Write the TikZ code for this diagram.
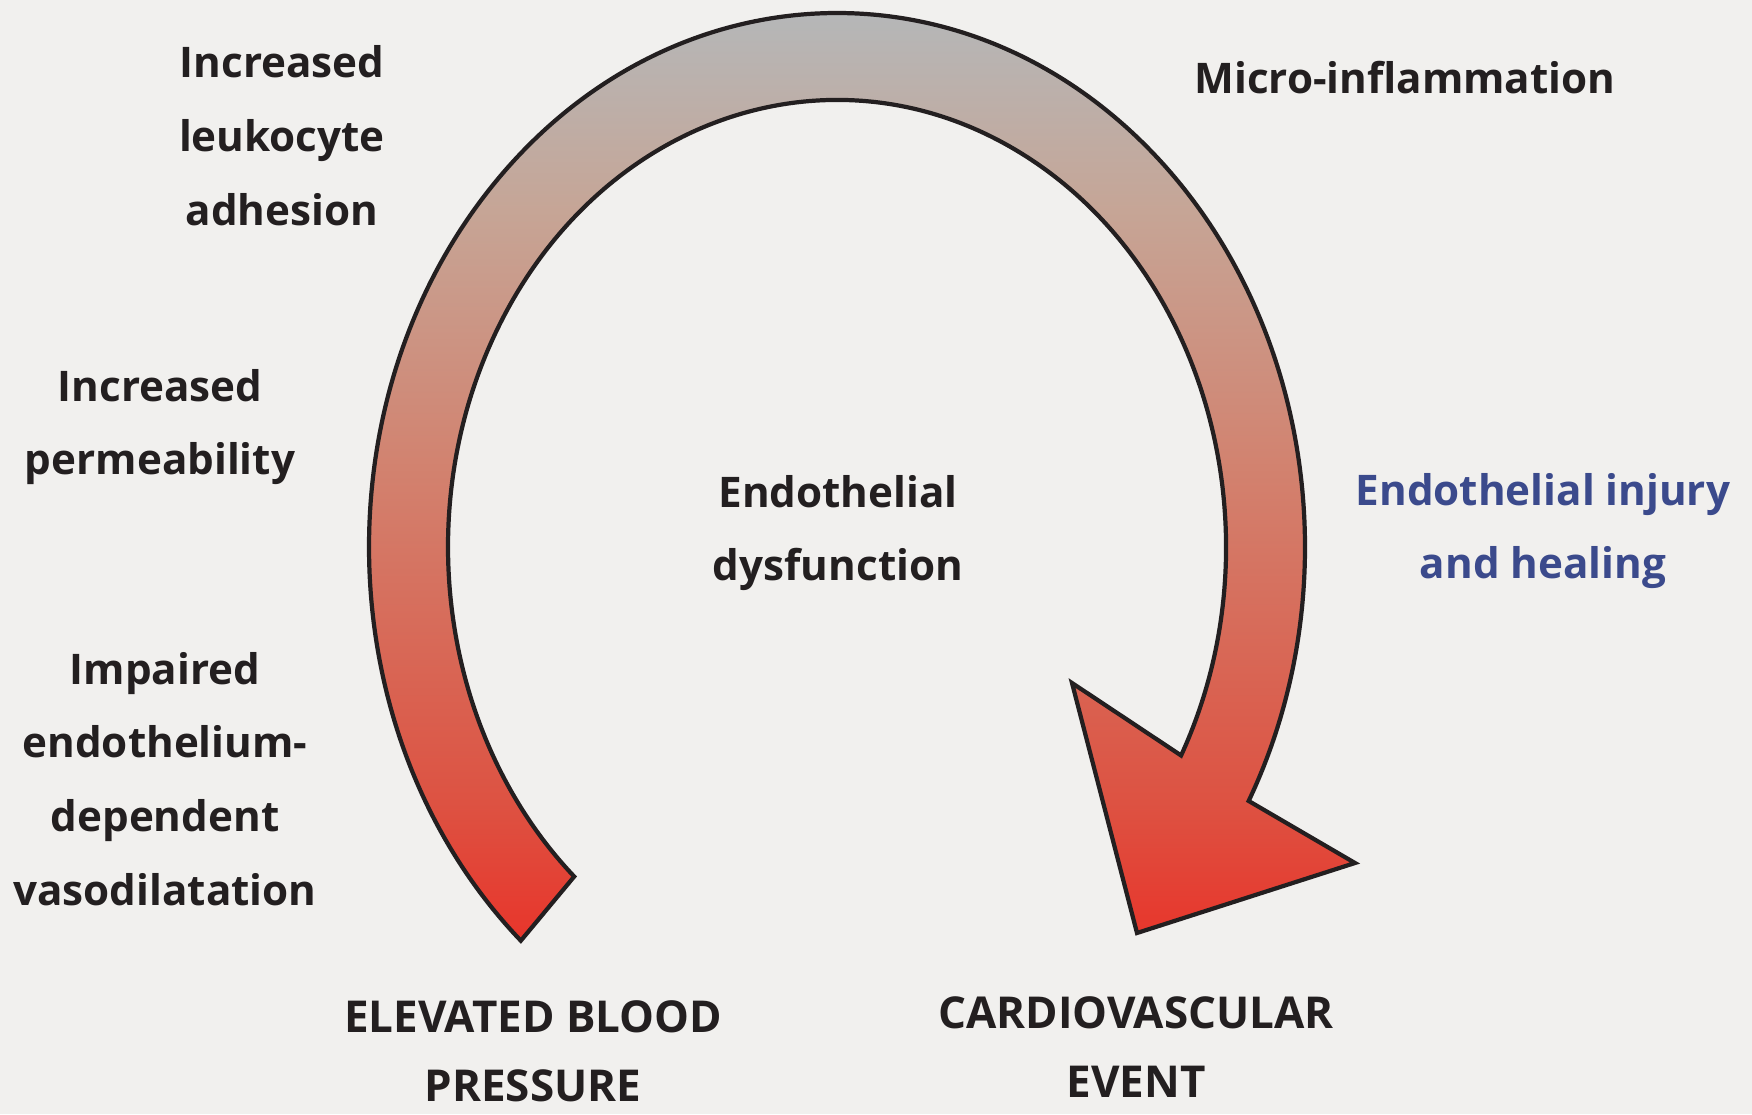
\documentclass[tikz,border=0pt]{standalone}
\usepackage{fontspec}
\setmainfont{Open Sans}
\usepackage{tikz}
\usetikzlibrary{calc}
\definecolor{ink}{HTML}{231F20}
\definecolor{paper}{HTML}{F1F0EE}
\definecolor{injury}{HTML}{3B4A8C}
\definecolor{arctop}{HTML}{B5B7B8}
\definecolor{arcbeige}{HTML}{C6A596}
\definecolor{arcmid}{HTML}{D2826F}
\definecolor{arcdeep}{HTML}{DD5242}
\definecolor{arcend}{HTML}{E8352B}
\pgfdeclareverticalshading{loopfade}{100bp}{color(0bp)=(arcend);
  color(25bp)=(arcend); color(32bp)=(arcdeep); color(49bp)=(arcmid);
  color(62bp)=(arcbeige); color(72bp)=(arctop); color(100bp)=(arctop)}

\begin{document}
\begin{tikzpicture}[
  font=\fontsize{12}{21}\selectfont\bfseries,
  effect/.style={align=center,text=ink,inner sep=0pt},
  outcome/.style={align=center,text=ink,inner sep=0pt,
    font=\fontsize{12.5}{19.6}\selectfont\bfseries},
  band/.style={draw=ink,line width=1.2pt,shading=loopfade}
]
  \fill[paper] (0,0) rectangle (17.52,11.14);
  \useasboundingbox (0,0) rectangle (17.52,11.14);

  % loop arrow: outer edge over the top, the head, inner edge back to the tail
  \coordinate (hub) at (8.37,5.67);
  \coordinate (barbL) at (10.72,4.31);
  \coordinate (barbR) at (13.55,2.51);
  \coordinate (tip) at (11.37,1.81);
  \draw[band] ($(hub)+(227.5:4.68 and 5.34)$)
      arc[start angle=227.5,end angle=-28.4,x radius=4.68,y radius=5.34]
      -- (barbR) -- (tip) -- (barbL)
      -- ($(hub)+(-27.8:3.89 and 4.47)$)
      arc[start angle=-27.8,end angle=227.5,x radius=3.89,y radius=4.47]
      -- cycle;

  \node[effect] (adhesion) at (2.82,9.78) {Increased\\leukocyte\\adhesion};
  \node[effect] (microinfl) at (14.05,10.36) {Micro-inflammation};
  \node[effect] (permeab) at (1.60,6.87) {Increased\\permeability};
  \node[effect] (vasodil) at (1.65,3.35)
    {Impaired\\endothelium-\\dependent\\vasodilatation};
  \node[effect] (dysfunc) at (8.38,5.81) {Endothelial\\dysfunction};
  \node[effect,text=injury] (injury) at (15.43,5.83) {Endothelial injury\\and healing};

  \node[outcome] (elevbp) at (5.33,0.63) {ELEVATED BLOOD\\PRESSURE};
  \node[outcome] (cvevent) at (11.36,0.67) {CARDIOVASCULAR\\EVENT};
\end{tikzpicture}
\end{document}
